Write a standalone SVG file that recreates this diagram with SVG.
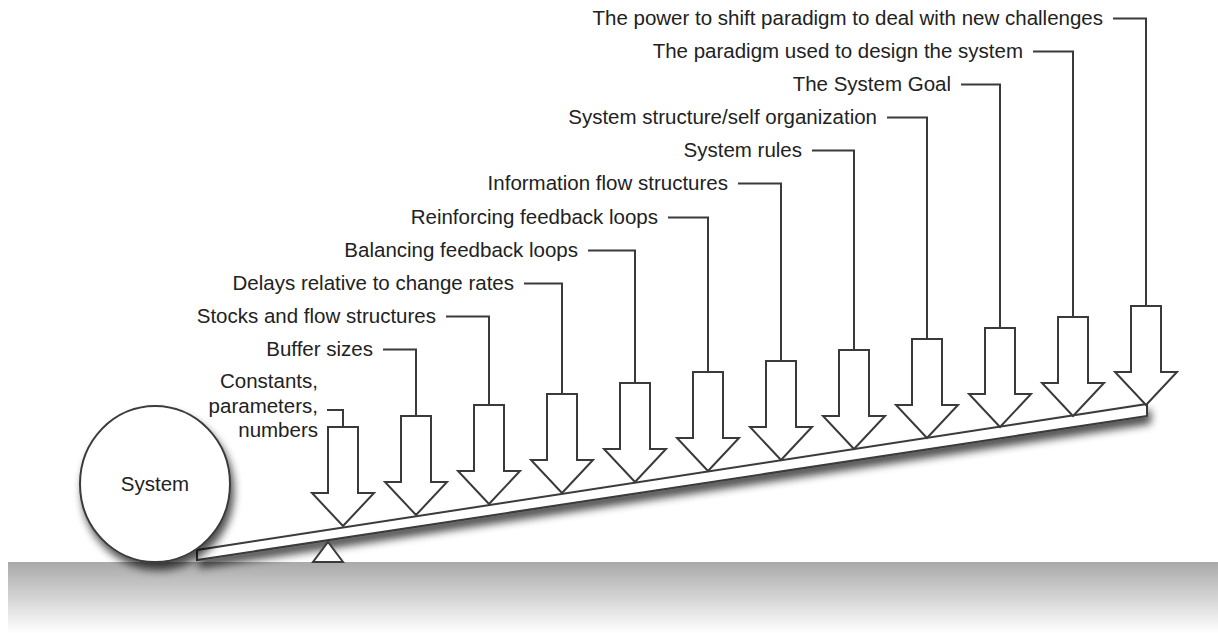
<svg xmlns="http://www.w3.org/2000/svg" xmlns:xlink="http://www.w3.org/1999/xlink" width="1218" height="633" viewBox="0 0 1218 633">
  <style>
    .lbl { font-family: "Liberation Sans", Arial, sans-serif; font-size: 20.5px; fill: #222; text-anchor: end; }
    .sys { font-family: "Liberation Sans", Arial, sans-serif; font-size: 20.5px; fill: #222; text-anchor: middle; }
    .ln { fill: none; stroke: #3a3a3a; stroke-width: 2; }
    .shape { fill: #fff; stroke: #3a3a3a; stroke-width: 2; stroke-linejoin: miter; }
  </style>
  <defs>
    <linearGradient id="groundFill" x1="0" y1="0" x2="0" y2="1">
      <stop offset="0" stop-color="#a9a9a9"/>
      <stop offset="0.55" stop-color="#d8d8d8"/>
      <stop offset="1" stop-color="#ffffff"/>
    </linearGradient>
    <filter id="soft" x="-20%" y="-40%" width="140%" height="200%">
      <feGaussianBlur in="SourceAlpha" stdDeviation="4"/>
      <feOffset dx="3" dy="7" result="b"/>
      <feComponentTransfer>
        <feFuncA type="linear" slope="0.7"/>
      </feComponentTransfer>
      <feMerge>
        <feMergeNode/>
        <feMergeNode in="SourceGraphic"/>
      </feMerge>
    </filter>
    <!-- block arrow, tip at the origin -->
    <path id="arrow" class="shape" d="M-15,-99 H15 V-33 H31 L0,0 L-31,-33 H-15 Z"/>
  </defs>

  <rect width="1218" height="633" fill="#fff"/>

  <!-- ground -->
  <rect id="ground" x="8" y="562" width="1210" height="71" fill="url(#groundFill)"/>

  <!-- lever and fulcrum -->
  <polygon id="lever" class="shape" filter="url(#soft)" points="197,550 1147,404 1147,416 197,560"/>
  <polygon id="fulcrum" class="shape" points="328,542 343,562 313,562"/>

  <!-- system -->
  <g id="system">
    <ellipse class="shape" filter="url(#soft)" cx="155" cy="484" rx="75" ry="78"/>
    <text class="sys" x="155" y="491">System</text>
  </g>

  <!-- leverage points -->
  <g id="lp-constants">
    <use xlink:href="#arrow" x="343" y="526"/>
    <text class="lbl" x="318" y="388">Constants,</text>
    <text class="lbl" x="318" y="413">parameters,</text>
    <text class="lbl" x="318" y="437">numbers</text>
  </g>
  <g id="lp-buffers">
    <use xlink:href="#arrow" x="416" y="515"/>
    <text class="lbl" x="373" y="356">Buffer sizes</text>
  </g>
  <g id="lp-stocks">
    <use xlink:href="#arrow" x="489" y="504"/>
    <text class="lbl" x="436" y="323">Stocks and flow structures</text>
  </g>
  <g id="lp-delays">
    <use xlink:href="#arrow" x="562" y="493"/>
    <text class="lbl" x="514" y="290">Delays relative to change rates</text>
  </g>
  <g id="lp-balancing">
    <use xlink:href="#arrow" x="635" y="482"/>
    <text class="lbl" x="578" y="257">Balancing feedback loops</text>
  </g>
  <g id="lp-reinforcing">
    <use xlink:href="#arrow" x="708" y="471"/>
    <text class="lbl" x="658" y="224">Reinforcing feedback loops</text>
  </g>
  <g id="lp-information">
    <use xlink:href="#arrow" x="781" y="460"/>
    <text class="lbl" x="728" y="190">Information flow structures</text>
  </g>
  <g id="lp-rules">
    <use xlink:href="#arrow" x="854" y="449"/>
    <text class="lbl" x="802" y="157">System rules</text>
  </g>
  <g id="lp-structure">
    <use xlink:href="#arrow" x="927" y="438"/>
    <text class="lbl" x="877" y="124">System structure/self organization</text>
  </g>
  <g id="lp-goal">
    <use xlink:href="#arrow" x="1000" y="427"/>
    <text class="lbl" x="951" y="91">The System Goal</text>
  </g>
  <g id="lp-paradigm">
    <use xlink:href="#arrow" x="1073" y="416"/>
    <text class="lbl" x="1023" y="58">The paradigm used to design the system</text>
  </g>
  <g id="lp-shift">
    <use xlink:href="#arrow" x="1146" y="405"/>
    <text class="lbl" x="1103" y="25">The power to shift paradigm to deal with new challenges</text>
  </g>

  <!-- label leaders -->
  <g id="connectors" class="ln">
    <path d="M327,410 H343 V427"/>
    <path d="M383,349.5 H416 V416"/>
    <path d="M446,316.5 H489 V405"/>
    <path d="M524,283.5 H562 V394"/>
    <path d="M588,250.5 H635 V383"/>
    <path d="M668,217.5 H708 V372"/>
    <path d="M738,183.5 H781 V361"/>
    <path d="M812,150.5 H854 V350"/>
    <path d="M887,117.5 H927 V339"/>
    <path d="M961,84.5 H1000 V328"/>
    <path d="M1033,51.5 H1073 V317"/>
    <path d="M1113,18.5 H1146 V306"/>
  </g>
</svg>
